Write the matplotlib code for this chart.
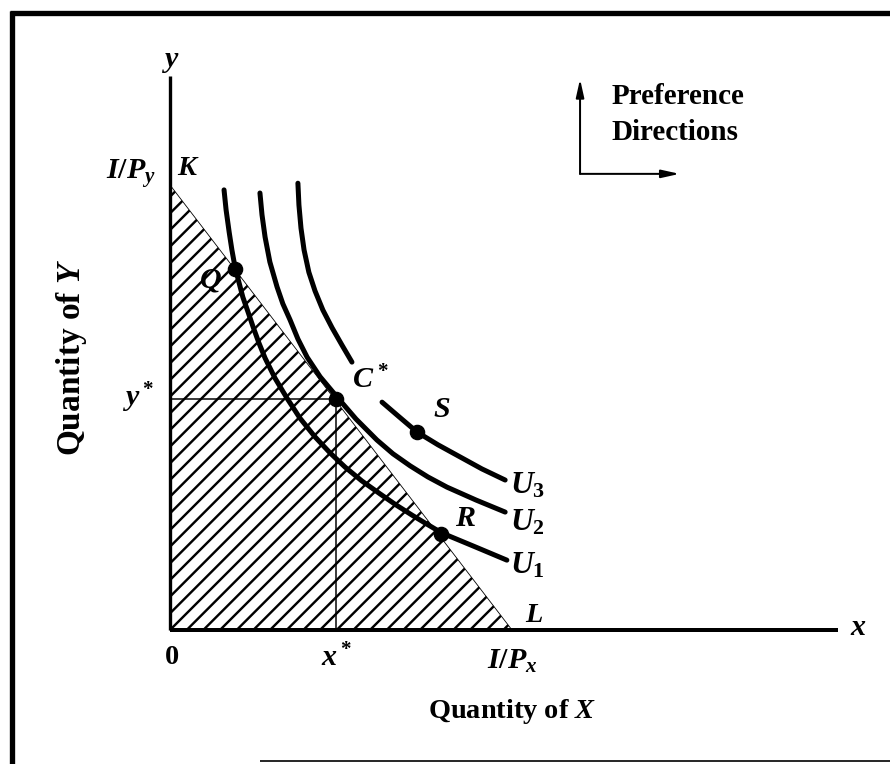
import matplotlib
matplotlib.use("Agg")
import matplotlib.pyplot as plt
from matplotlib.lines import Line2D
from matplotlib.patches import Polygon

DPI = 100
K = 120 / DPI   # scale point sizes so pixel sizes stay the same

plt.rcParams['font.family'] = ['Liberation Serif', 'DejaVu Serif']
plt.rcParams['font.weight'] = 'bold'
plt.rcParams['mathtext.fontset'] = 'custom'
plt.rcParams['mathtext.rm'] = 'Liberation Serif:bold'
plt.rcParams['mathtext.it'] = 'Liberation Serif:italic:bold'
plt.rcParams['mathtext.bf'] = 'Liberation Serif:bold'
plt.rcParams['hatch.linewidth'] = 1.45 * K

# ---- data (economic units) ----
income_over_px = 10.0   # I/Px, x-intercept of budget line
income_over_py = 10.0   # I/Py, y-intercept of budget line
x_star = 4.86
y_star = 5.2

u1_x = [1.58, 1.64, 1.73, 1.81, 1.90, 2.02, 2.13, 2.28, 2.43, 2.60, 2.78, 3.07, 3.42,
        3.80, 4.24, 4.68, 5.12, 5.61, 6.14, 6.61, 7.08, 7.51, 7.95, 8.92, 9.85]
u1_y = [9.89, 9.44, 8.94, 8.54, 8.16, 7.80, 7.48, 7.15, 6.81, 6.45, 6.11, 5.66, 5.21,
        4.76, 4.34, 3.98, 3.66, 3.35, 3.06, 2.81, 2.58, 2.38, 2.18, 1.87, 1.57]

u2_x = [2.63, 2.69, 2.78, 2.92, 3.13, 3.30, 3.51, 3.74, 4.01, 4.39, 4.88, 5.44, 6.05,
        6.52, 7.02, 7.54, 8.10, 8.95, 9.80]
u2_y = [9.82, 9.33, 8.83, 8.27, 7.71, 7.33, 6.97, 6.54, 6.13, 5.69, 5.24, 4.74, 4.27,
        3.96, 3.69, 3.44, 3.21, 2.92, 2.65]

u3_upper_x = [3.74, 3.77, 3.83, 3.92, 4.06, 4.24, 4.47, 4.74, 5.03, 5.32]
u3_upper_y = [10.04, 9.55, 9.03, 8.54, 8.04, 7.62, 7.19, 6.79, 6.40, 6.02]
u3_lower_x = [6.20, 6.67, 7.22, 7.84, 8.48, 9.12, 9.80]
u3_lower_y = [5.12, 4.81, 4.45, 4.16, 3.89, 3.62, 3.37]

point_names = ['Q', 'C*', 'S', 'R']
point_x = [1.90, 4.86, 7.22, 7.92]
point_y = [8.12, 5.20, 4.45, 2.16]

x_axis_end = 19.53
y_axis_end = 12.45

# ---- figure ----
fig = plt.figure(figsize=(890 / DPI, 764 / DPI), dpi=DPI)
ax = fig.add_axes([0, 0, 1, 1])
ax.set_xlim(-4.971, 21.053)
ax.set_ylim(-3.011, 14.157)
ax.axis('off')

# budget set (hatched)
tri = Polygon([(0, 0), (0, income_over_py), (income_over_px, 0)], closed=True,
              facecolor='white', edgecolor='black', hatch='//', linewidth=0.5 * K, zorder=1)
ax.add_patch(tri)

# axes
ax.plot([0, x_axis_end], [0, 0], color='black', lw=2.4 * K, solid_capstyle='butt', zorder=3)
ax.plot([0, 0], [0, y_axis_end], color='black', lw=2.0 * K, solid_capstyle='butt', zorder=3)

# x*, y* guide lines
ax.plot([0, x_star], [y_star, y_star], color='black', lw=0.9 * K, zorder=2)
ax.plot([x_star, x_star], [0, y_star], color='black', lw=0.9 * K, zorder=2)

# indifference curves
for xs, ys in [(u1_x, u1_y), (u2_x, u2_y), (u3_upper_x, u3_upper_y), (u3_lower_x, u3_lower_y)]:
    ax.plot(xs, ys, color='black', lw=3.0 * K, solid_capstyle='round',
            solid_joinstyle='round', zorder=4)

# points
ax.plot(point_x, point_y, 'o', color='black', markersize=8.5 * K, zorder=5)

fs = 18 * K
# point labels
ax.text(1.17, 7.85, '$Q$', fontsize=fs, ha='center', va='center', zorder=6)
ax.text(5.85, 5.62, '$C^*$', fontsize=fs, ha='center', va='center', zorder=6)
ax.text(7.95, 4.95, '$S$', fontsize=fs, ha='center', va='center', zorder=6)
ax.text(8.63, 2.50, '$R$', fontsize=fs, ha='center', va='center', zorder=6)
ax.text(0.55, 10.38, '$K$', fontsize=fs - K, ha='center', va='center')
ax.text(10.64, 0.33, '$L$', fontsize=fs - K, ha='center', va='center')

# curve labels
ax.text(9.95, 3.25, '$U_3$', fontsize=fs + K, ha='left', va='center')
ax.text(9.95, 2.42, '$U_2$', fontsize=fs + K, ha='left', va='center')
ax.text(9.95, 1.45, '$U_1$', fontsize=fs + K, ha='left', va='center')

# axis letters
ax.text(0.0, 12.78, '$y$', fontsize=fs, ha='center', va='center')
ax.text(x_axis_end + 0.35, 0.05, '$x$', fontsize=fs, ha='left', va='center')

# tick-like labels
ax.text(0.06, -0.62, '0', fontsize=fs - K, ha='center', va='center')
ax.text(x_star, -0.62, '$x^*$', fontsize=fs, ha='center', va='center')
ax.text(income_over_px, -0.70, '$I/P_x$', fontsize=fs, ha='center', va='center')
ax.text(-0.45, y_star + 0.02, '$y^*$', fontsize=fs, ha='right', va='center')
ax.text(-0.42, income_over_py + 0.25, '$I/P_y$', fontsize=fs, ha='right', va='center')

# axis titles
ax.text(10.0, -1.84, 'Quantity of $X$', fontsize=17 * K, ha='center', va='center')
ax.text(-2.89, 6.12, 'Quantity of $Y$', fontsize=20 * K, ha='center', va='center', rotation=90)

# preference directions
cx, cy = 11.99, 10.25
astyle = '-|>,head_length=0.9,head_width=0.2'
ax.annotate('', xy=(cx, 12.38), xytext=(cx, cy),
            arrowprops=dict(arrowstyle=astyle, color='black', lw=1.2 * K,
                            shrinkA=0, shrinkB=0, mutation_scale=10 * K))
ax.annotate('', xy=(14.9, cy), xytext=(cx, cy),
            arrowprops=dict(arrowstyle=astyle, color='black', lw=1.2 * K,
                            shrinkA=0, shrinkB=0, mutation_scale=10 * K))
ax.text(12.92, 11.98, 'Preference', fontsize=17.5 * K, ha='left', va='center')
ax.text(12.92, 11.17, 'Directions', fontsize=17.5 * K, ha='left', va='center')

# frame around figure
fig.add_artist(Line2D([12 / 890, 12 / 890], [0, 1 - 11 / 764], transform=fig.transFigure,
                      color='black', lw=3.2 * K, solid_capstyle='butt'))
fig.add_artist(Line2D([10 / 890, 1], [1 - 13 / 764, 1 - 13 / 764], transform=fig.transFigure,
                      color='black', lw=3.2 * K, solid_capstyle='butt'))
fig.add_artist(Line2D([260 / 890, 1], [1 - 761 / 764, 1 - 761 / 764], transform=fig.transFigure,
                      color='black', lw=1.0 * K, solid_capstyle='butt'))

fig.savefig('out.png', dpi=DPI, facecolor='white')
